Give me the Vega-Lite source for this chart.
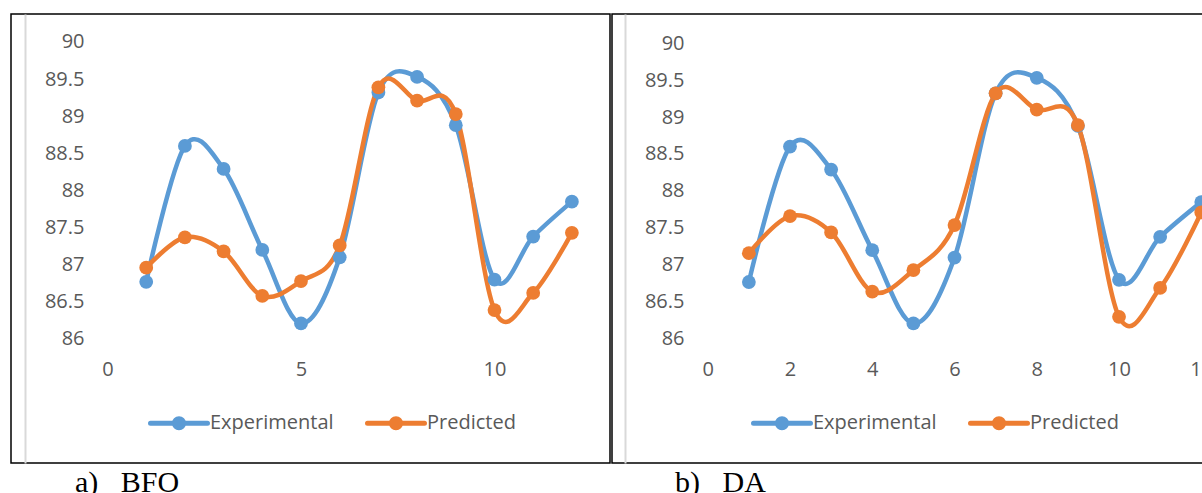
{
  "$schema": "https://vega.github.io/schema/vega-lite/v6.json",
  "padding": {"left": 10, "top": 13, "right": 0, "bottom": 0},
  "background": "white",
  "config": {
    "view": {"stroke": "black", "strokeWidth": 1.5, "fill": "white"},
    "axis": {"labelFont": "Open Sans", "labelFontSize": 20, "labelColor": "#595959", "title": null, "ticks": false, "grid": false},
    "legend": {"labelFont": "Open Sans", "labelFontSize": 20, "labelColor": "#595959"}
  },
  "datasets": {
    "bfo": [
      {"run": 1, "series": "Experimental", "value": 86.77},
      {"run": 2, "series": "Experimental", "value": 88.60},
      {"run": 3, "series": "Experimental", "value": 88.29},
      {"run": 4, "series": "Experimental", "value": 87.20},
      {"run": 5, "series": "Experimental", "value": 86.21},
      {"run": 6, "series": "Experimental", "value": 87.10},
      {"run": 7, "series": "Experimental", "value": 89.32},
      {"run": 8, "series": "Experimental", "value": 89.53},
      {"run": 9, "series": "Experimental", "value": 88.88},
      {"run": 10, "series": "Experimental", "value": 86.80},
      {"run": 11, "series": "Experimental", "value": 87.38},
      {"run": 12, "series": "Experimental", "value": 87.85},
      {"run": 1, "series": "Predicted", "value": 86.96},
      {"run": 2, "series": "Predicted", "value": 87.37},
      {"run": 3, "series": "Predicted", "value": 87.18},
      {"run": 4, "series": "Predicted", "value": 86.58},
      {"run": 5, "series": "Predicted", "value": 86.78},
      {"run": 6, "series": "Predicted", "value": 87.26},
      {"run": 7, "series": "Predicted", "value": 89.39},
      {"run": 8, "series": "Predicted", "value": 89.21},
      {"run": 9, "series": "Predicted", "value": 89.03},
      {"run": 10, "series": "Predicted", "value": 86.39},
      {"run": 11, "series": "Predicted", "value": 86.62},
      {"run": 12, "series": "Predicted", "value": 87.43}
    ],
    "da": [
      {"run": 1, "series": "Experimental", "value": 86.77},
      {"run": 2, "series": "Experimental", "value": 88.60},
      {"run": 3, "series": "Experimental", "value": 88.29},
      {"run": 4, "series": "Experimental", "value": 87.20},
      {"run": 5, "series": "Experimental", "value": 86.21},
      {"run": 6, "series": "Experimental", "value": 87.10},
      {"run": 7, "series": "Experimental", "value": 89.32},
      {"run": 8, "series": "Experimental", "value": 89.53},
      {"run": 9, "series": "Experimental", "value": 88.88},
      {"run": 10, "series": "Experimental", "value": 86.80},
      {"run": 11, "series": "Experimental", "value": 87.38},
      {"run": 12, "series": "Experimental", "value": 87.85},
      {"run": 1, "series": "Predicted", "value": 87.16},
      {"run": 2, "series": "Predicted", "value": 87.66},
      {"run": 3, "series": "Predicted", "value": 87.44},
      {"run": 4, "series": "Predicted", "value": 86.64},
      {"run": 5, "series": "Predicted", "value": 86.93},
      {"run": 6, "series": "Predicted", "value": 87.54},
      {"run": 7, "series": "Predicted", "value": 89.32},
      {"run": 8, "series": "Predicted", "value": 89.10},
      {"run": 9, "series": "Predicted", "value": 88.89},
      {"run": 10, "series": "Predicted", "value": 86.30},
      {"run": 11, "series": "Predicted", "value": 86.69},
      {"run": 12, "series": "Predicted", "value": 87.71}
    ],
    "grid": [
      {"value": 86}, {"value": 86.5}, {"value": 87}, {"value": 87.5}, {"value": 88},
      {"value": 88.5}, {"value": 89}, {"value": 89.5}, {"value": 90}
    ]
  },
  "spacing": 0,
  "resolve": {"legend": {"color": "independent"}, "scale": {"x": "independent", "y": "independent"}},
  "hconcat": [
    {
      "width": 599,
      "height": 449,
      "title": {"text": "a)\u00a0\u00a0\u00a0BFO", "orient": "bottom", "anchor": "start", "dx": 64, "offset": 5, "font": "Liberation Serif", "fontSize": 30, "fontWeight": "normal", "color": "black"},
      "encoding": {
        "x": {"field": "run", "type": "quantitative", "scale": {"domain": [-2.494, 12.985], "nice": false, "zero": false},
              "axis": {"orient": "bottom", "offset": -124, "values": [0, 5, 10], "domain": false, "labelPadding": 20, "title": null}},
        "y": {"field": "value", "type": "quantitative", "scale": {"domain": [84.33, 90.377], "nice": false, "zero": false},
              "axis": {"orient": "left", "offset": -14, "values": [86, 86.5, 87, 87.5, 88, 88.5, 89, 89.5, 90], "format": "~g", "domain": true, "domainColor": "#D9D9D9", "domainWidth": 2, "labelPadding": -59, "title": null}},
        "color": {"field": "series", "type": "nominal",
                  "scale": {"domain": ["Experimental", "Predicted"], "range": ["#5B9BD5", "#ED7D31"]},
                  "legend": {"title": null, "orient": "none", "legendX": 137, "legendY": 378, "direction": "horizontal",
                             "symbolType": "M-1,0L1,0M-0.16,0A0.16,0.16,0,1,1,0.16,0A0.16,0.16,0,1,1,-0.16,0Z",
                             "symbolSize": 3249, "symbolStrokeWidth": 5, "labelOffset": 0, "columnPadding": 23, "padding": 0,
                             "encode": {"symbols": {"update": {"fill": {"scale": "color", "field": "value"}, "stroke": {"scale": "color", "field": "value"}, "strokeCap": {"value": "round"}, "opacity": {"value": 1}}}}}}
      },
      "layer": [
        {"data": {"name": "grid"}, "mark": {"type": "rule", "strokeWidth": 1.5},
         "encoding": {"x": {"datum": 0}, "x2": {"datum": 12}, "color": {"value": "#D9D9D9"}}},
        {"data": {"name": "bfo"}, "mark": {"type": "line", "interpolate": "cardinal", "strokeWidth": 4.5}},
        {"data": {"name": "bfo"}, "mark": {"type": "point", "filled": true, "size": 190, "opacity": 1}}
      ]
    },
    {
      "width": 594,
      "height": 449,
      "title": {"text": "b)\u00a0\u00a0\u00a0DA", "orient": "bottom", "anchor": "start", "dx": 63, "offset": 5, "font": "Liberation Serif", "fontSize": 30, "fontWeight": "normal", "color": "black"},
      "encoding": {
        "x": {"field": "run", "type": "quantitative", "scale": {"domain": [-2.328, 12.115], "nice": false, "zero": false},
              "axis": {"orient": "bottom", "offset": -124, "values": [0, 2, 4, 6, 8, 10, 12], "domain": false, "labelPadding": 20, "title": null}},
        "y": {"field": "value", "type": "quantitative", "scale": {"domain": [84.324, 90.392], "nice": false, "zero": false},
              "axis": {"orient": "left", "offset": -13, "values": [86, 86.5, 87, 87.5, 88, 88.5, 89, 89.5, 90], "format": "~g", "domain": true, "domainColor": "#D9D9D9", "domainWidth": 2, "labelPadding": -59, "title": null}},
        "color": {"field": "series", "type": "nominal",
                  "scale": {"domain": ["Experimental", "Predicted"], "range": ["#5B9BD5", "#ED7D31"]},
                  "legend": {"title": null, "orient": "none", "legendX": 139, "legendY": 378, "direction": "horizontal",
                             "symbolType": "M-1,0L1,0M-0.16,0A0.16,0.16,0,1,1,0.16,0A0.16,0.16,0,1,1,-0.16,0Z",
                             "symbolSize": 3249, "symbolStrokeWidth": 5, "labelOffset": 0, "columnPadding": 23, "padding": 0,
                             "encode": {"symbols": {"update": {"fill": {"scale": "color", "field": "value"}, "stroke": {"scale": "color", "field": "value"}, "strokeCap": {"value": "round"}, "opacity": {"value": 1}}}}}}
      },
      "layer": [
        {"data": {"name": "grid"}, "mark": {"type": "rule", "strokeWidth": 1.5},
         "encoding": {"x": {"datum": 0}, "x2": {"datum": 12}, "color": {"value": "#D9D9D9"}}},
        {"data": {"name": "da"}, "mark": {"type": "line", "interpolate": "cardinal", "strokeWidth": 4.5}},
        {"data": {"name": "da"}, "mark": {"type": "point", "filled": true, "size": 190, "opacity": 1}}
      ]
    }
  ]
}
